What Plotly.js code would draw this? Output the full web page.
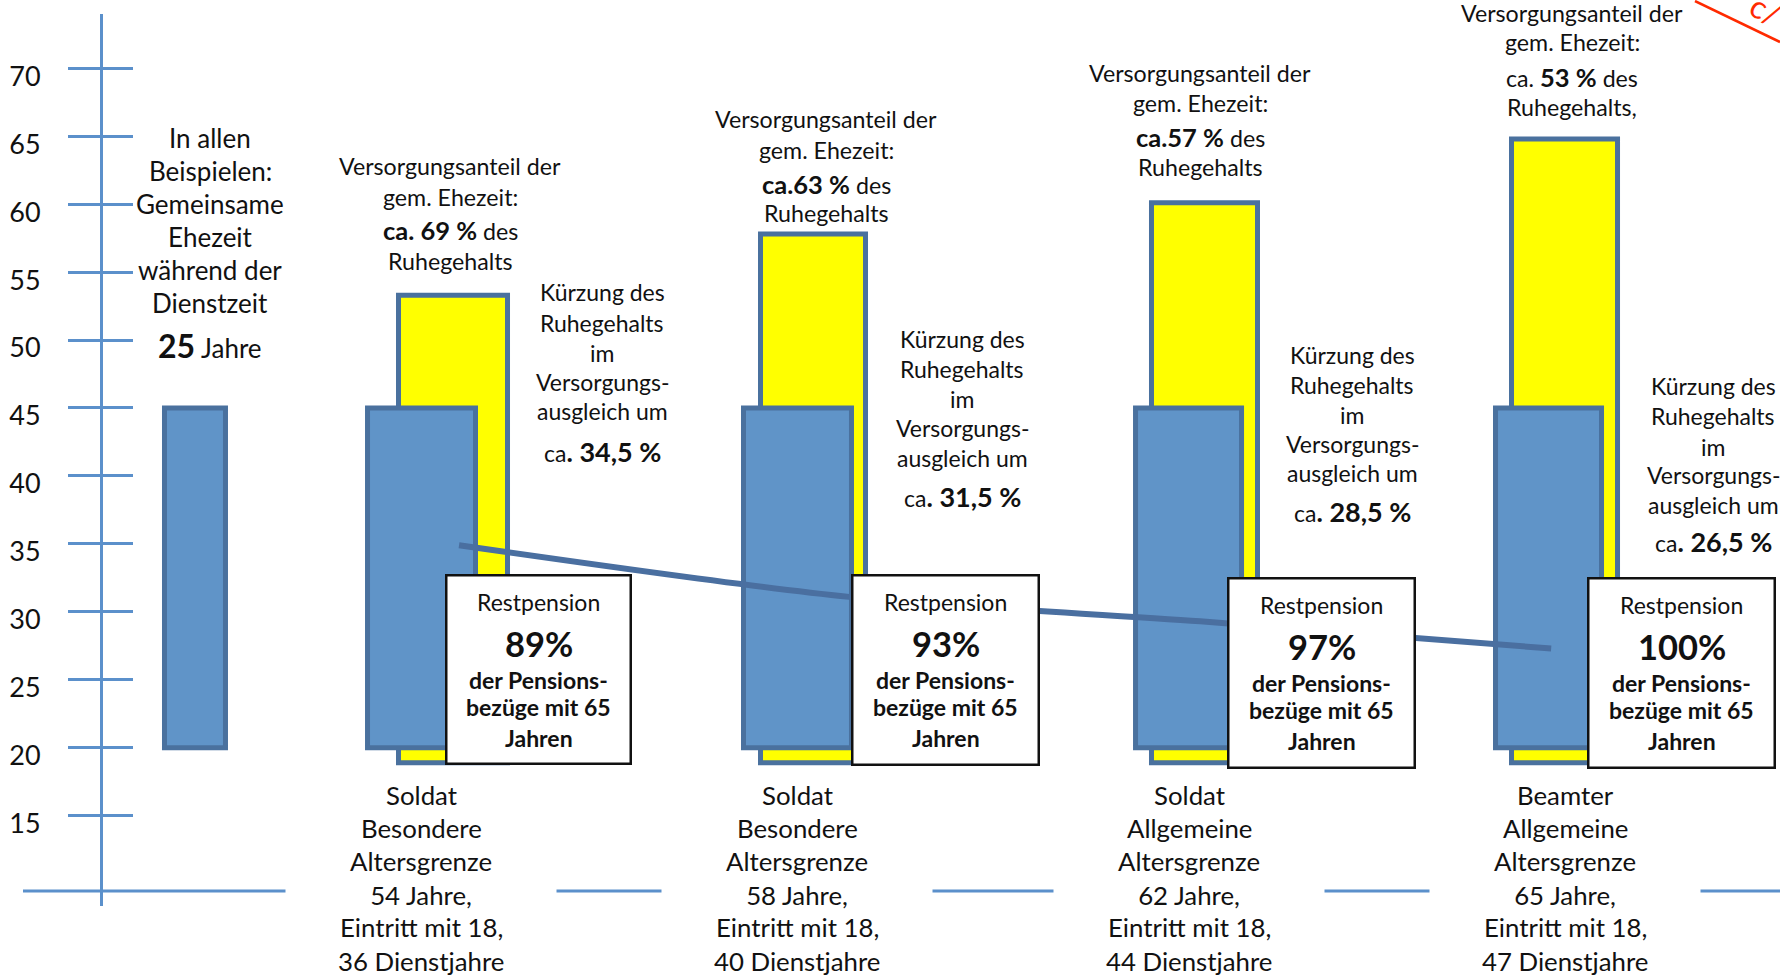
<!DOCTYPE html>
<html><head><meta charset="utf-8">
<script src="https://cdn.plot.ly/plotly-3.0.1.min.js"></script>
<style>html,body{margin:0;padding:0;background:#fff}</style>
</head><body><div id="chart" style="width:1780px;height:975px"></div>
<script>
// ---------- data ----------
const categories = ['Gemeinsame Ehezeit', 'Soldat Besondere 54', 'Soldat Besondere 58', 'Soldat Allgemeine 62', 'Beamter Allgemeine 65'];
const status = ['Soldat', 'Soldat', 'Soldat', 'Beamter'];
const grenzeArt = ['Besondere', 'Besondere', 'Allgemeine', 'Allgemeine'];
const altersgrenze = [54, 58, 62, 65];
const eintrittsalter = [18, 18, 18, 18];
const dienstjahre = [36, 40, 44, 47];
const ehezeitBeginn = [20, 20, 20, 20, 20];
const ehezeitJahre = [25, 25, 25, 25, 25];
const dienstzeitBeginn = [18.9, 18.9, 18.9, 18.9];
const dienstzeitEnde = [53.3, 57.8, 60.1, 64.8];
const versorgungsanteil = ['69', '63', '57', '53'];
const kuerzung = ['34,5', '31,5', '28,5', '26,5'];
const restpension = [89, 93, 97, 100];
const trendWerte = [34.9, 31.1, 29.3, 27.3];
const yTicks = [15, 20, 25, 30, 35, 40, 45, 50, 55, 60, 65, 70];

// ---------- style / layout constants ----------
const W = 1780, H = 975, PT = 14, PB = 906;
const yRange = [8.355, 73.99];
const xRange = [-0.1716, 4.6005];
const axisBlue = '#5b90cb';
const barBlue = '#6094c8';
const barLine = '#4a719e';
const FONT = 'Lato, "Open Sans", sans-serif';
const TXT = '#111111';

const blueOffset = [0.2694, -0.1863, -0.1783, -0.1273, -0.1622];
const blueWidth = [0.1635, 0.2895, 0.2895, 0.2842, 0.2842];
const yellowOffset = [-0.1032, -0.1327, -0.0845, -0.1193];
const yellowWidth = [0.2922, 0.2815, 0.2842, 0.2842];
const trendShift = [0.059, 0.105, 0.046, -0.013];

const traces = [
  {
    type: 'bar', x: categories.slice(1), base: dienstzeitBeginn,
    y: dienstzeitEnde.map((v, i) => v - dienstzeitBeginn[i]),
    offset: yellowOffset, width: yellowWidth,
    marker: {color: '#ffff00', line: {color: barLine, width: 5}},
    hoverinfo: 'skip'
  },
  {
    type: 'bar', x: categories, base: ehezeitBeginn, y: ehezeitJahre,
    offset: blueOffset, width: blueWidth,
    marker: {color: barBlue, line: {color: barLine, width: 5}},
    hoverinfo: 'skip'
  },
  {
    type: 'scatter', mode: 'lines', xaxis: 'x2', yaxis: 'y2',
    x: trendWerte.map((v, i) => (i + 1) + trendShift[i]), y: trendWerte,
    line: {color: '#4a6fa0', width: 6, shape: 'spline', smoothing: 0.8},
    hoverinfo: 'skip'
  }
];

// ---------- annotations ----------
const ann = [];
function pp(x, y) { return {x: x / W, y: (PB - y) / (PB - PT)}; }
function addText(cx, cy, text, size, extra) {
  const p = pp(cx, cy);
  ann.push(Object.assign({
    xref: 'paper', yref: 'paper', x: p.x, y: p.y, xanchor: 'center', yanchor: 'middle',
    showarrow: false, text: text, font: {family: FONT, size: size, color: TXT}
  }, extra || {}));
}

// left block
const leftLines = ['In allen', 'Beispielen:', 'Gemeinsame', 'Ehezeit', 'während der', 'Dienstzeit',
  '<span style="font-size:32px"><b>' + ehezeitJahre[0] + '</b></span> Jahre'];
const leftY = [138, 171, 204, 237, 270, 303, 346];
leftLines.forEach((t, i) => addText(210, leftY[i], t, 26));

// Versorgungsanteil blocks
const vaX = [450, 826, 1200, 1572];
const vaY = [[166, 197, 230, 261], [119, 150, 184, 213], [73, 103, 137, 167], [13, 42, 77, 107]];
versorgungsanteil.forEach((v, i) => {
  let third;
  if (i === 0) third = '<span style="font-size:25.5px"><b>ca. ' + v + ' %</b></span> des';
  else if (i < 3) third = '<span style="font-size:25.5px"><b>ca.' + v + ' %</b></span> des';
  else third = 'ca. <span style="font-size:25.5px"><b>' + v + ' %</b></span> des';
  const lines = ['Versorgungsanteil der', 'gem. Ehezeit:', third, i === 3 ? 'Ruhegehalts,' : 'Ruhegehalts'];
  lines.forEach((t, k) => addText(vaX[i], vaY[i][k], t, 23.2));
});

// Kürzung blocks
const kzX = [602, 962, 1352, 1713];
const kzY = [[292, 323, 353, 382, 411, 451], [339, 369, 399, 428, 458, 496],
  [355, 385, 415, 444, 473, 512], [386, 416, 447, 475, 505, 542]];
kuerzung.forEach((v, i) => {
  const lines = ['Kürzung des', 'Ruhegehalts', 'im', 'Versorgungs-', 'ausgleich um',
    'ca<span style="font-size:27px"><b>. ' + v + ' %</b></span>'];
  lines.forEach((t, k) => addText(kzX[i], kzY[i][k], t, 23));
});

// category labels below
const catX = [421, 797, 1189, 1565];
const catY = [795, 828, 861, 895, 927, 961];
status.forEach((s, i) => {
  const lines = [s, grenzeArt[i], 'Altersgrenze', altersgrenze[i] + ' Jahre,',
    'Eintritt mit ' + eintrittsalter[i] + ',', dienstjahre[i] + ' Dienstjahre'];
  lines.forEach((t, k) => {
    const extra = (k === 3) ? {bgcolor: '#ffffff', width: 268, height: 30} : {};
    addText(catX[i], catY[k], t, 25.8, extra);
  });
});

// Restpension boxes
const boxes = [[445, 632, 574, 765], [851, 1040, 574, 766], [1227, 1416, 577, 769], [1587, 1776, 577, 769]];
const shapes = [];
shapes.push({type: 'line', xref: 'paper', yref: 'paper', x0: 23 / W, x1: 1,
  y0: pp(0, 891).y, y1: pp(0, 891).y, line: {color: axisBlue, width: 3}, layer: 'below'});
restpension.forEach((r, i) => {
  const b = boxes[i];
  const a = pp(b[0] + 1.25, b[2] + 1.25), c = pp(b[1] - 1.25, b[3] - 1.25);
  shapes.push({type: 'rect', xref: 'paper', yref: 'paper', x0: a.x, x1: c.x, y0: c.y, y1: a.y,
    fillcolor: '#ffffff', line: {color: '#111111', width: 2.5}, layer: 'above'});
  const cx = (b[0] + b[1]) / 2, top = b[2];
  addText(cx, top + 28, 'Restpension', 23);
  addText(cx, top + 69, '<b>' + r + '%</b>', 34.5);
  addText(cx, top + 106, '<b>der Pensions-</b>', 23);
  addText(cx, top + 133, '<b>bezüge mit 65</b>', 23);
  addText(cx, top + 164, '<b>Jahren</b>', 23);
});

// red stroke at the top right corner
shapes.push({type: 'line', xref: 'paper', yref: 'paper', x0: 1695 / W, y0: pp(0, 1).y, x1: 1, y1: pp(0, 42).y,
  line: {color: '#ff2a00', width: 2.5}, layer: 'above'});
addText(1766, 10, 'c/', 32, {textangle: 28, font: {family: FONT, size: 32, color: '#ff2a00'}});

const layout = {
  width: W, height: H,
  margin: {l: 0, r: 0, t: PT, b: H - PB, pad: 0},
  paper_bgcolor: '#ffffff', plot_bgcolor: '#ffffff',
  showlegend: false, barmode: 'overlay', hovermode: false,
  xaxis: {type: 'category', categoryorder: 'array', categoryarray: categories, range: xRange,
    showticklabels: false, ticks: '', showgrid: false, zeroline: false, showline: false, fixedrange: true},
  xaxis2: {type: 'linear', overlaying: 'x', range: xRange, visible: false, fixedrange: true},
  yaxis: {range: yRange, anchor: 'free', position: 101 / W, tickmode: 'array', tickvals: yTicks,
    ticks: 'outside', ticklen: 32, tickwidth: 3, tickcolor: axisBlue,
    showline: true, linecolor: axisBlue, linewidth: 3, showgrid: false, zeroline: false,
    tickfont: {family: FONT, size: 27, color: TXT}, ticklabelstandoff: 22, ticklabelshift: 8, fixedrange: true},
  yaxis2: {range: yRange, overlaying: 'y', anchor: 'free', position: 101 / W, tickmode: 'array', tickvals: yTicks,
    ticks: 'inside', ticklen: 31, tickwidth: 3, tickcolor: axisBlue, showticklabels: false,
    showline: false, showgrid: false, zeroline: false, fixedrange: true},
  shapes: shapes,
  annotations: ann
};

Plotly.newPlot('chart', traces, layout, {displayModeBar: false, staticPlot: true});
</script>
</body></html>
